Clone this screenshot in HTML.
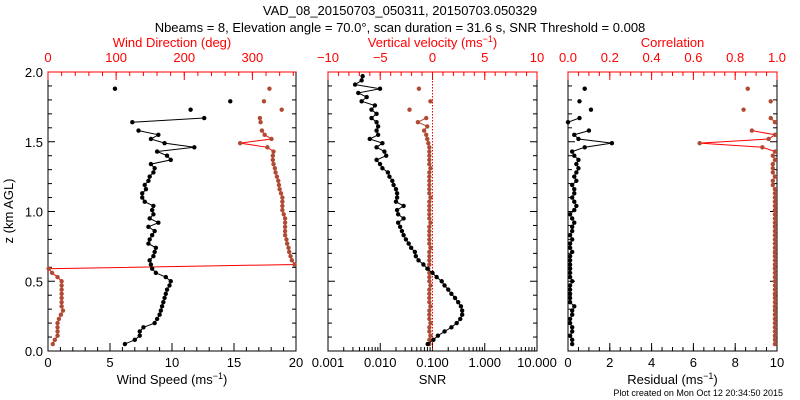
<!DOCTYPE html>
<html><head><meta charset="utf-8"><style>
body{margin:0;background:#fff;}
svg{display:block;font-family:"Liberation Sans",sans-serif;}
</style></head><body>
<svg id="s" width="800" height="400" xmlns="http://www.w3.org/2000/svg">
<rect width="800" height="400" fill="#fff"/>
<text x="400" y="15" font-size="13" text-anchor="middle">VAD_08_20150703_050311, 20150703.050329</text>
<text x="400" y="32" font-size="13" text-anchor="middle">Nbeams = 8, Elevation angle = 70.0°, scan duration = 31.6 s, SNR Threshold = 0.008</text>
<text x="783" y="396" font-size="9" text-anchor="end">Plot created on Mon Oct 12 20:34:50 2015</text>
</svg>
<script>
const heights=[0.05,0.08,0.11,0.14,0.17,0.20,0.23,0.26,0.29,0.32,0.35,0.38,0.41,0.44,0.47,0.50,0.53,0.56,0.59,0.62,0.65,0.68,0.71,0.74,0.77,0.80,0.83,0.86,0.89,0.92,0.95,0.98,1.01,1.04,1.07,1.10,1.13,1.16,1.19,1.22,1.25,1.28,1.31,1.34,1.37,1.40,1.43,1.46,1.49,1.52,1.55,1.58,1.61,1.64,1.67,1.70,1.73,1.76,1.79,1.82,1.85,1.88,1.91,1.94,1.97];
const windSpeed=[6.2,7.0,7.4,7.4,7.7,8.6,8.8,9.0,9.1,9.2,9.3,9.4,9.5,9.6,9.8,9.9,9.5,8.7,8.4,8.3,8.2,8.5,8.6,8.7,8.1,8.2,8.4,8.6,8.1,8.9,8.2,8.5,8.4,8.5,7.8,7.6,7.6,7.9,7.8,8.1,8.2,8.5,8.6,8.3,9.9,9.6,8.8,11.8,9.4,8.3,8.9,7.3,null,6.8,12.6,null,11.5,null,14.7,null,null,5.4,null,null,null];
const windDir=[7,10,14,14,14,14,16,19,22,20,20,20,20,20,20,20,14,6,1,362,358,356,354,353,351,350,348,348,348,348,348,346,344,344,344,344,342,340,339,338,336,334,333,331,330,330,331,322,282,328,318,314,null,312,311,null,343,null,317,null,null,325,null,null,null];
const snr=[0.081,0.104,0.127,0.17,0.23,0.29,0.34,0.37,0.37,0.35,0.31,0.27,0.23,0.20,0.17,0.15,0.12,0.10,0.080,0.067,0.054,0.048,0.046,0.039,0.035,0.031,0.028,0.026,0.024,0.022,0.028,0.022,0.021,0.028,0.020,0.021,0.021,0.020,0.018,0.017,0.015,0.014,0.011,0.0099,0.0085,0.013,0.012,0.0085,0.011,0.0063,0.0091,0.0085,0.0091,0.0085,0.0068,0.0085,0.0068,0.0079,0.0044,0.0055,0.0038,0.0099,0.0033,0.0044,0.0046];
const wVel=[-0.3,-0.3,-0.2,-0.3,-0.3,-0.2,-0.3,-0.3,-0.3,-0.2,-0.3,-0.3,-0.3,-0.3,-0.2,-0.3,-0.3,-0.3,-0.4,-0.3,-0.3,-0.3,-0.3,-0.2,-0.3,-0.3,-0.3,-0.3,-0.3,-0.2,-0.3,-0.3,-0.3,-0.3,-0.3,-0.2,-0.3,-0.3,-0.3,-0.3,-0.3,-0.3,-0.2,-0.3,-0.3,-0.3,-0.3,-0.3,-0.4,-0.5,-0.6,-0.8,-0.5,-1.4,-0.6,null,-2.2,null,-0.2,null,null,-1.3,null,null,null];
const residual=[0.2,0.2,0.1,0.2,0.2,0.1,0.1,0.2,0.2,0.3,0.1,0.1,0.1,0.1,0.1,0.2,0.1,0.1,0.1,0.1,0.1,0.1,0.2,0.1,0.1,0.2,0.1,0.2,0.2,0.3,0.2,0.1,0.3,0.4,0.3,0.2,0.3,0.3,0.2,0.4,0.3,0.4,0.5,0.4,0.5,0.3,0.2,0.8,2.1,0.5,0.3,1.0,null,0.0,0.55,null,1.1,null,0.55,null,null,0.8,null,null,null];
const correlation=[0.99,0.99,0.99,0.99,0.99,0.99,0.99,0.99,0.99,0.99,0.99,0.99,0.99,0.99,0.99,0.99,0.99,0.99,0.99,0.99,0.99,0.99,0.99,0.99,0.99,0.99,0.99,0.99,0.99,0.99,0.99,0.99,0.99,0.99,0.99,0.99,0.99,0.99,0.98,0.98,0.99,0.98,0.98,0.98,0.99,0.98,0.99,0.93,0.63,0.96,0.99,0.88,null,0.99,0.97,null,0.84,null,0.97,null,null,0.86,null,null,null];

const S=document.getElementById('s');const NS='http://www.w3.org/2000/svg';
const BROWN='#b04a32',RED='#ff0000';
function el(t,a,txt){const e=document.createElementNS(NS,t);for(const k in a)e.setAttribute(k,a[k]);if(txt!=null)e.textContent=txt;S.appendChild(e);return e;}
const Y0=351,Y1=72;
function yz(z){return Y0+(z-0)*(Y1-Y0)/2;}
function lin(a,b,x0,x1){return v=>x0+(v-a)*(x1-x0)/(b-a);}

function panel(name,x0,x1){
  const r=el('rect',{x:x0,y:Y1,width:x1-x0,height:Y0-Y1,fill:'none',stroke:'#000','stroke-width':1});
  
  
  for(let k=0;k<=20;k++){const y=yz(k/10);const L=k%5==0?7:4;
    el('line',{x1:x0,y1:y,x2:x0+L,y2:y,stroke:'#000'});el('line',{x1:x1,y1:y,x2:x1-L,y2:y,stroke:'#000'});}
}
function bottomAxis(x0,x1,f,majors,minors,labels,title,name){
  minors.forEach(v=>{const x=f(v);el('line',{x1:x,y1:Y0,x2:x,y2:Y0-4,stroke:'#000'});});
  majors.forEach((v,i)=>{const x=f(v);el('line',{x1:x,y1:Y0,x2:x,y2:Y0-8,stroke:'#000'});
    const t=el('text',{x:x,y:Y0+16,'font-size':13,'text-anchor':'middle'},labels[i]);
    
    });
  const t=el('text',{x:(x0+x1)/2,y:Y0+33,'font-size':13,'text-anchor':'middle'});t.innerHTML=title;
  
  
}
function topAxis(x0,x1,f,majors,minors,labels,title,name){
  el('line',{x1:x0,y1:Y1,x2:x1,y2:Y1,stroke:RED});
  minors.forEach(v=>{const x=f(v);el('line',{x1:x,y1:Y1,x2:x,y2:Y1+4,stroke:RED});});
  majors.forEach((v,i)=>{const x=f(v);el('line',{x1:x,y1:Y1,x2:x,y2:Y1+8,stroke:RED});
    const t=el('text',{x:x,y:Y1-10,'font-size':13,'text-anchor':'middle',fill:RED},labels[i]);
    
    });
  const t=el('text',{x:(x0+x1)/2,y:Y1-25,'font-size':13,'text-anchor':'middle',fill:RED});t.innerHTML=title;
  
  
}
function series(vals,f,color,lineColor,name){
  let d='',prev=false;
  vals.forEach((v,i)=>{if(v==null){prev=false;return;}const x=f(v),y=yz(heights[i]);d+=(prev?'L':'M')+x.toFixed(1)+' '+y.toFixed(1);prev=true;});
  const p=el('path',{d:d,fill:'none',stroke:lineColor,'stroke-width':1});
  
  
  vals.forEach((v,i)=>{if(v==null)return;const c=el('circle',{cx:f(v),cy:yz(heights[i]),r:2.2,fill:color});
    
    });
}
function rng(a,b,s){const o=[];for(let v=a;v<=b+1e-9;v+=s)o.push(+v.toFixed(4));return o;}

// Panel 1
const fx1=lin(0,20,48,296),fd=lin(0,364,48,296);
panel('wind-panel',48,296);
bottomAxis(48,296,fx1,[0,5,10,15,20],rng(0,20,1),['0','5','10','15','20'],'Wind Speed (ms<tspan dy="-5" font-size="9">−1</tspan><tspan dy="5">)</tspan>','wind-speed-axis');
topAxis(48,296,fd,[0,100,200,300],rng(0,360,20),['0','100','200','300'],'Wind Direction (deg)','wind-direction-axis');
[0,0.5,1,1.5,2].forEach(v=>{const t=el('text',{x:43,y:yz(v)+5,'font-size':13,'text-anchor':'end'},v.toFixed(1));
  
  });
const yt=el('text',{x:13,y:211,'font-size':13,'text-anchor':'middle',transform:'rotate(-90 13 211)'},'z (km AGL)');


series(windDir,fd,BROWN,RED,'wind-direction');
series(windSpeed,fx1,'#000','#000','wind-speed');

// Panel 2
const fs=v=>328+(Math.log10(v)+3)*(537-328)/4,fw=lin(-10,10,328,537);
panel('snr-panel',328,537);
const lmin=[];for(let e=-3;e<1;e++)for(let m=2;m<10;m++)lmin.push(m*Math.pow(10,e));
bottomAxis(328,537,fs,[0.001,0.01,0.1,1,10],lmin,['0.001','0.010','0.100','1.000','10.000'],'SNR','snr-axis');
topAxis(328,537,fw,[-10,-5,0,5,10],rng(-10,10,1),['−10','−5','0','5','10'],'Vertical velocity (ms<tspan dy="-5" font-size="9">−1</tspan><tspan dy="5">)</tspan>','vertical-velocity-axis');
const zl=el('line',{x1:fw(0),y1:Y1,x2:fw(0),y2:Y0,stroke:RED,'stroke-dasharray':'1.5 1.5'});


series(wVel,fw,BROWN,BROWN,'vertical-velocity');
series(snr,fs,'#000','#000','snr');

// Panel 3
const fr=lin(0,10,568,777),fc=lin(0,1,568,777);
panel('residual-panel',568,777);
bottomAxis(568,777,fr,[0,2,4,6,8,10],rng(0,10,0.5),['0','2','4','6','8','10'],'Residual (ms<tspan dy="-5" font-size="9">−1</tspan><tspan dy="5">)</tspan>','residual-axis');
topAxis(568,777,fc,[0,0.2,0.4,0.6,0.8,1],rng(0,1,0.05),['0.0','0.2','0.4','0.6','0.8','1.0'],'Correlation','correlation-axis');
series(correlation,fc,BROWN,RED,'correlation');
series(residual,fr,'#000','#000','residual');
</script>
</body></html>
